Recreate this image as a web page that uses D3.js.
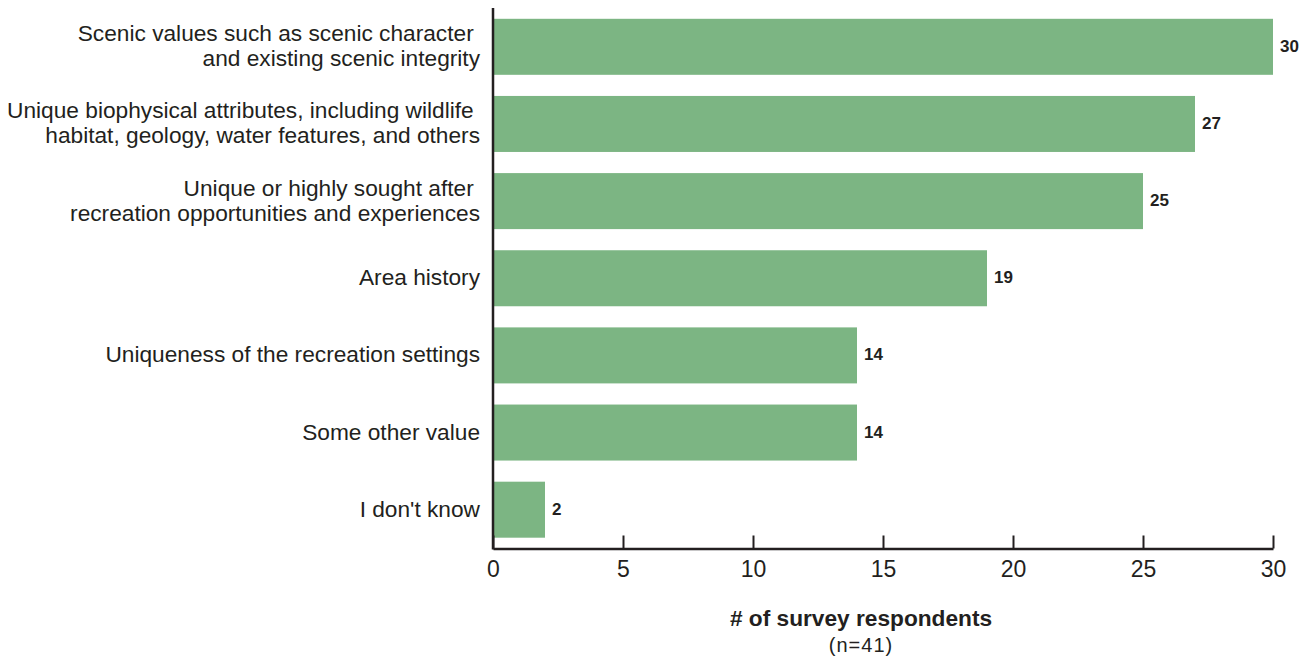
<!DOCTYPE html>
<html><head><meta charset="utf-8">
<script src="https://cdn.jsdelivr.net/npm/d3@7"></script>
<style>body{margin:0;background:#fff}svg{display:block}text{font-family:"Liberation Sans",Arial,sans-serif;fill:#231f20}</style>
</head><body><svg id="c" width="1307" height="658"></svg>
<script>
const categories = [
  ["Scenic values such as scenic character ", "and existing scenic integrity"],
  ["Unique biophysical attributes, including wildlife ", "habitat, geology, water features, and others"],
  ["Unique or highly sought after ", "recreation opportunities and experiences"],
  ["Area history"],
  ["Uniqueness of the recreation settings"],
  ["Some other value"],
  ["I don't know"]
];
const values = [30, 27, 25, 19, 14, 14, 2];
const xTicks = [0, 5, 10, 15, 20, 25, 30];
const xTitle = "# of survey respondents";
const xSubtitle = "(n=41)";

(function() {
const svg = d3.select("#c");
const pL = 493, pR = 1273, pT = 8, pB = 548.5;
const ids = categories.map((c, i) => i);
const x = d3.scaleLinear().domain([0, 30]).range([pL, pR]);
const y = d3.scaleBand().domain(ids).range([pT, pB]).paddingInner(0.274).paddingOuter(0.14);

svg.selectAll("rect.bar").data(values).join("rect")
  .attr("class", "bar")
  .attr("x", x(0)).attr("y", (d, i) => y(i))
  .attr("width", d => x(d) - x(0)).attr("height", y.bandwidth())
  .attr("fill", "#7cb583");

svg.selectAll("text.val").data(values).join("text")
  .attr("class", "val")
  .attr("x", d => x(d) + 7).attr("y", (d, i) => y(i) + y.bandwidth() / 2 + 5)
  .attr("font-size", 17).attr("font-weight", "bold")
  .text(d => d);

const lab = svg.selectAll("text.cat").data(categories).join("text")
  .attr("class", "cat").attr("text-anchor", "end").attr("font-size", 22.7)
  .attr("xml:space", "preserve").style("white-space", "pre");
lab.each(function(lines, i) {
  const t = d3.select(this);
  const cy = y(i) + y.bandwidth() / 2;
  const lh = 25;
  lines.forEach((l, k) => {
    t.append("tspan").attr("x", 480)
      .attr("y", cy + 7 + (k - (lines.length - 1) / 2) * lh)
      .text(l);
  });
});

const xAxis = d3.axisBottom(x).tickValues(xTicks).tickSize(-13).tickPadding(12).tickSizeOuter(0);
const gx = svg.append("g").attr("transform", `translate(0,${pB})`).call(xAxis);
gx.select(".domain").attr("stroke", "#231f20").attr("stroke-width", 2.5);
gx.selectAll(".tick line").attr("stroke", "#231f20").attr("stroke-width", 2);
gx.selectAll(".tick text").attr("font-size", 23).attr("fill", "#231f20")
  .attr("font-family", "Liberation Sans, Arial, sans-serif");

svg.append("line").attr("x1", pL).attr("x2", pL).attr("y1", pT).attr("y2", pB + 1)
  .attr("stroke", "#231f20").attr("stroke-width", 2.5);

svg.append("text").attr("x", 861).attr("y", 626)
  .attr("text-anchor", "middle").attr("font-size", 22.7).attr("font-weight", "bold").text(xTitle);
svg.append("text").attr("x", 861).attr("y", 652)
  .attr("text-anchor", "middle").attr("font-size", 20).attr("letter-spacing", 1).text(xSubtitle);
})();
</script></body></html>
